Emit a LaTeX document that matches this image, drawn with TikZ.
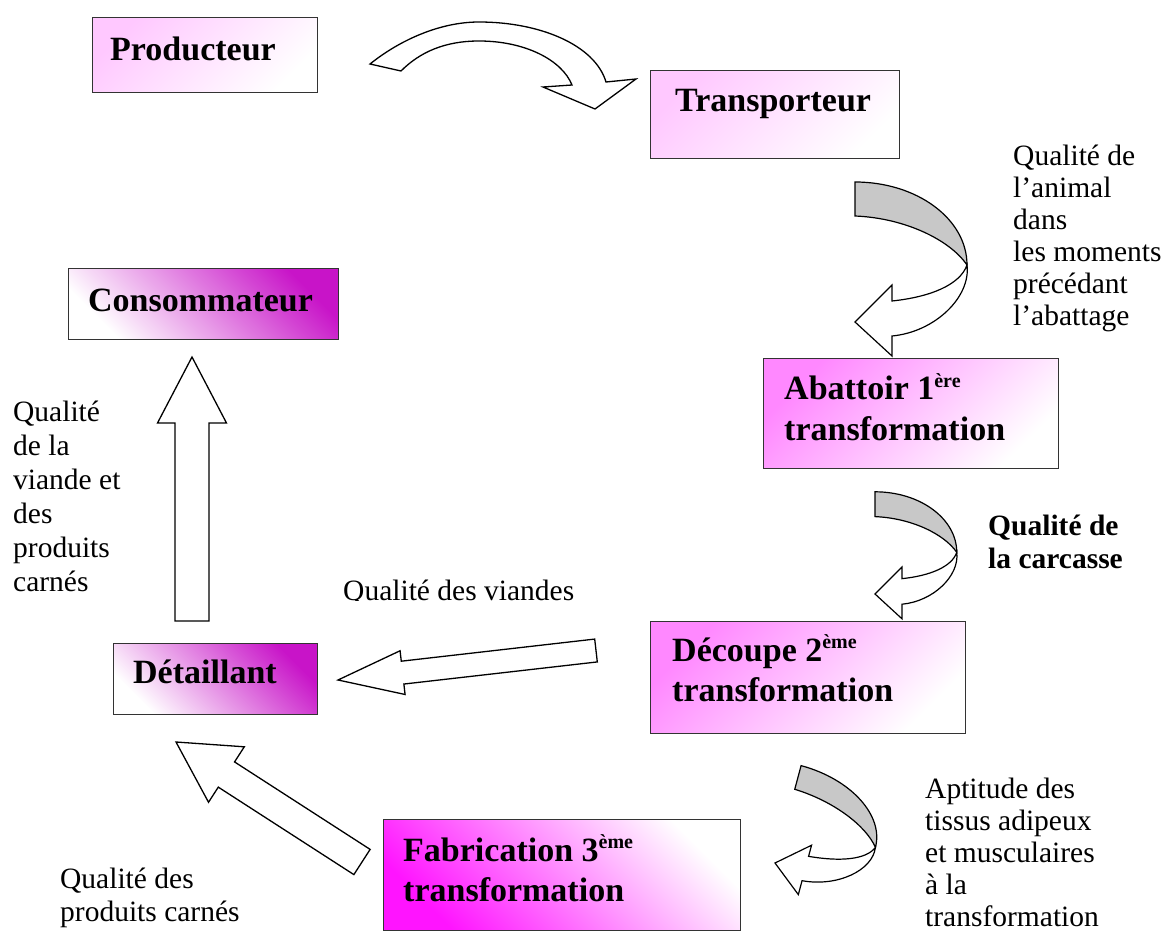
\documentclass[tikz,border=0pt]{standalone}
\usepackage{fontspec}
\setmainfont{Liberation Serif}
\usetikzlibrary{calc}
\definecolor{pinkL}{HTML}{FFC8FF}
\definecolor{pinkM}{HTML}{FF88FF}
\definecolor{magD}{HTML}{C814C8}
\definecolor{magF}{HTML}{FF14FF}
\definecolor{grayF}{HTML}{C8C8C8}
\definecolor{edgeC}{HTML}{333333}
\newcommand\supx[1]{\raisebox{13pt}{\fontsize{20}{20}\selectfont #1}}
\newcommand\blockarrow[6]{%
  \coordinate (#1h) at ($(#3)!#6!(#2)$);
  \draw[blk] ($(#2)!#4!90:(#3)$) -- ($(#1h)!#4!90:(#3)$) -- ($(#1h)!#5!90:(#3)$) -- (#3)
    -- ($(#1h)!#5!-90:(#3)$) -- ($(#1h)!#4!-90:(#3)$) -- ($(#2)!#4!-90:(#3)$) -- cycle;}
\newcommand\grayarrow{%
  \draw[garrow, fill=grayF] (0,-140) .. controls (62,-140) and (112,-103) .. (112,-57)
     .. controls (95,-82) and (50,-104) .. (0,-106) -- cycle;
  \draw[garrow, fill=white] (112,-57) .. controls (116,-25) and (80,10) .. (37,14) -- (37,34) -- (0,0)
     -- (37,-37) -- (37,-21) .. controls (75,-25) and (105,-37) .. (112,-57) -- cycle;}
\begin{document}
\begin{tikzpicture}[x=1pt,y=-1pt,
  box/.style={draw=edgeC, line width=1.4pt, anchor=north west, inner sep=0pt},
  blbl/.style={font=\bfseries\fontsize{34}{40}\selectfont, align=left, inner sep=0pt, anchor=base west},
  lbl/.style={font=\fontsize{29.5}{32}\selectfont, align=left, inner sep=0pt, anchor=base west},
  blk/.style={draw=black, line width=1.3pt, fill=white, line join=miter},
  garrow/.style={draw=black, line width=1.2pt, line join=miter}]
\useasboundingbox[fill=white] (0,0) rectangle (1171,933);

% boxes
\node[box, top color=pinkL, bottom color=white, shading angle=45, minimum width=225, minimum height=75] (prod) at (92,17) {};
\node[box, top color=pinkL, bottom color=white, shading angle=45, minimum width=249, minimum height=88] (trans) at (650,70) {};
\node[box, top color=pinkM, bottom color=white, shading angle=45, minimum width=295, minimum height=110] (abat) at (763,358) {};
\node[box, top color=magD, bottom color=white, shading angle=-45, minimum width=270, minimum height=71] (cons) at (68,268) {};
\node[box, top color=magD, bottom color=white, shading angle=-45, minimum width=204, minimum height=71] (det) at (113,643) {};
\node[box, top color=pinkM, bottom color=white, shading angle=45, minimum width=315, minimum height=112] (dec) at (650,621) {};
\node[box, top color=white, bottom color=magF, shading angle=-45, minimum width=357, minimum height=111] (fab) at (383,819) {};

% box labels (anchor = baseline of the last line)
\node[blbl] (prodT) at (110,61) {Producteur};
\node[blbl] (transT) at (675,112) {Transporteur};
\node[blbl] (abatT) at (784,440) {Abattoir 1\supx{ère}\\transformation};
\node[blbl] (consT) at (88,312) {Consommateur};
\node[blbl] (detT) at (133,683) {Détaillant};
\node[blbl] (decT) at (672,701) {Découpe 2\supx{ème}\\transformation};
\node[blbl] (fabT) at (403,901) {Fabrication 3\supx{ème}\\transformation};

% texts
\node[lbl] (tAnimal) at (1013,326) {Qualité de\\l’animal\\dans\\les moments\\précédant\\l’abattage};
\node[lbl, font=\bfseries\fontsize{29.5}{33}\selectfont] (tCarc) at (988,568) {Qualité de\\la carcasse};
\node[lbl, font=\fontsize{29.5}{34}\selectfont] (tViande) at (13,591) {Qualité\\de la\\viande et\\des\\produits\\carnés};
\node[lbl] (tApt) at (925,926) {Aptitude des\\tissus adipeux\\et musculaires\\à la\\transformation};
\node[lbl, font=\fontsize{29.5}{33}\selectfont] (tProd) at (60,921) {Qualité des\\produits carnés};
\begin{scope}
\clip (330,560) rectangle (620,600);
\node[lbl] (tViandes) at (343,600) {Qualité des viandes};
\end{scope}

% top curved arrow
\draw[blk] (370,64) .. controls (400,40) and (440,22) .. (479,22)
  .. controls (540,22) and (595,45) .. (606,82) -- (636,79) -- (595,109) -- (543,87) -- (572,85)
  .. controls (562,60) and (525,41) .. (479,41) .. controls (445,41) and (420,52) .. (401,71) -- cycle;

% gray curved arrows
\begin{scope}[shift={(855,322)}]\grayarrow\end{scope}
\begin{scope}[shift={(875,594)}, scale=0.73]\grayarrow\end{scope}
\begin{scope}[shift={(775,863)}, rotate=-15, xscale=0.83, yscale=0.72]\grayarrow\end{scope}

% block arrows
\coordinate (upA) at (192,621); \coordinate (upB) at (192,357);
\blockarrow{up}{upA}{upB}{17pt}{34.5pt}{66pt}
\coordinate (lfA) at (596,650.5); \coordinate (lfB) at (338,680);
\blockarrow{lf}{lfA}{lfB}{11.5pt}{22pt}{65pt}
\coordinate (dgA) at (362,862); \coordinate (dgB) at (176,742);
\blockarrow{dg}{dgA}{dgB}{15pt}{33pt}{60pt}
\end{tikzpicture}
\end{document}
